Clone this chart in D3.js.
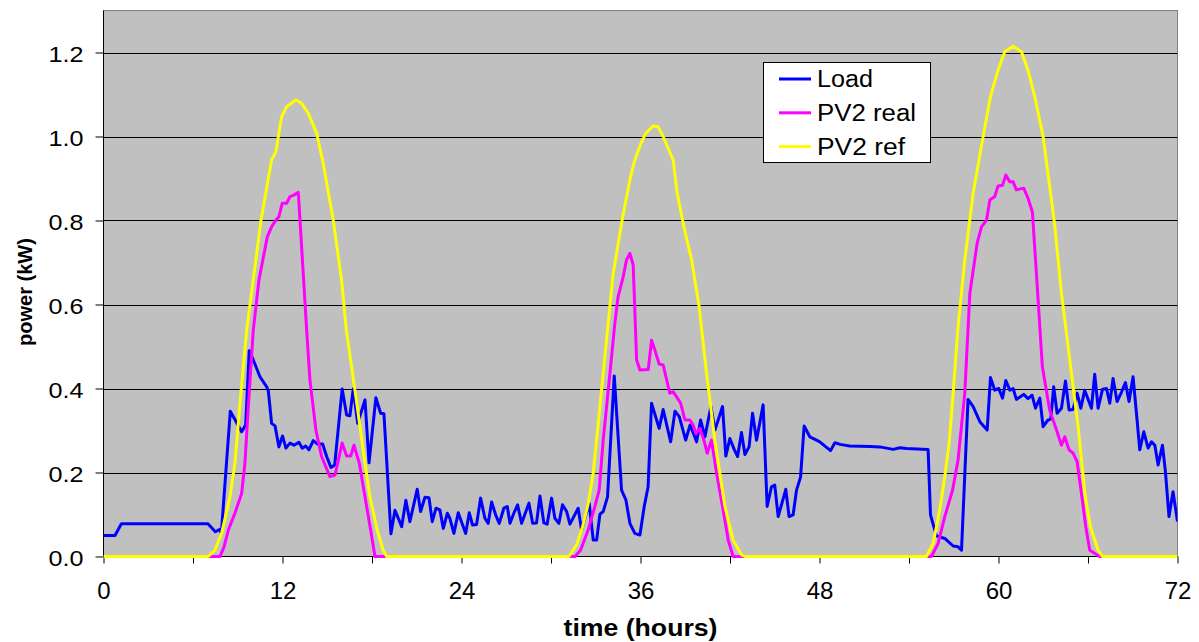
<!DOCTYPE html>
<html><head><meta charset="utf-8">
<script src="https://cdn.jsdelivr.net/npm/d3@7/dist/d3.min.js"></script>
<style>body{margin:0;background:#fff}svg{display:block}</style>
</head><body><svg id="c" width="1199" height="642"></svg>
<script>
// ---- data (hours, kW) ----
const loadHours=[0,0.77,1.2,7.0,7.5,7.8,7.9,8.5,8.8,9.26,9.53,9.77,10.04,10.49,10.94,11.05,11.27,11.5,11.76,12.0,12.23,12.5,12.77,13.1,13.33,13.55,13.77,14.06,14.33,14.69,14.96,15.25,15.5,16.0,16.3,16.52,16.74,17.04,17.53,17.8,18.26,18.58,18.8,19.27,19.54,19.99,20.27,20.54,21.03,21.26,21.55,21.82,22.04,22.29,22.55,22.78,23.05,23.22,23.49,23.78,24.28,24.52,24.74,25.01,25.28,25.57,25.79,26.02,26.29,26.53,26.84,27.07,27.25,27.51,27.76,28.03,28.52,28.77,29.03,29.26,29.52,29.74,30.04,30.26,30.53,30.77,31.05,31.27,31.82,32.05,32.56,32.83,33.06,33.28,33.5,33.79,34.24,34.73,35.02,35.29,35.62,35.96,36.25,36.51,36.74,37.25,37.52,38.02,38.31,38.6,39.03,39.32,39.53,39.76,40.03,40.32,40.72,40.99,41.5,41.72,41.99,42.28,42.51,42.77,43.0,43.28,43.51,43.78,44.22,44.49,44.78,45.0,45.23,45.74,45.96,46.23,46.46,46.73,46.97,47.35,47.8,48.02,48.74,49.03,49.38,50.03,51.37,52.04,52.94,53.39,53.83,55.28,55.44,55.84,56.4,56.96,57.29,57.52,57.96,58.3,58.75,59.24,59.46,59.75,60.02,60.27,60.49,60.76,60.98,61.2,61.69,61.98,62.25,62.48,62.77,62.99,63.32,63.5,63.7,63.93,64.22,64.49,64.73,65.0,65.27,65.52,65.78,66.23,66.45,66.68,66.97,67.24,67.46,67.68,67.95,68.24,68.51,68.75,69.02,69.29,69.47,69.74,70.03,70.26,70.48,70.7,70.99,71.19,71.43,71.7,72];
const loadKW=[0.05,0.05,0.078,0.078,0.059,0.065,0.055,0.346,0.327,0.297,0.313,0.49,0.468,0.428,0.404,0.394,0.317,0.311,0.261,0.287,0.258,0.27,0.265,0.272,0.258,0.263,0.254,0.276,0.268,0.268,0.238,0.212,0.218,0.399,0.337,0.335,0.399,0.317,0.373,0.223,0.378,0.341,0.34,0.054,0.11,0.071,0.134,0.083,0.16,0.107,0.141,0.14,0.083,0.115,0.111,0.067,0.103,0.091,0.055,0.104,0.055,0.104,0.075,0.076,0.139,0.091,0.079,0.13,0.099,0.079,0.115,0.119,0.079,0.103,0.123,0.079,0.127,0.079,0.08,0.144,0.08,0.077,0.139,0.091,0.079,0.123,0.107,0.077,0.115,0.063,0.127,0.039,0.039,0.101,0.107,0.142,0.43,0.158,0.135,0.079,0.055,0.051,0.119,0.166,0.365,0.305,0.35,0.273,0.346,0.333,0.277,0.313,0.295,0.273,0.325,0.285,0.357,0.301,0.357,0.239,0.281,0.255,0.238,0.295,0.243,0.261,0.341,0.277,0.361,0.119,0.166,0.17,0.095,0.16,0.095,0.099,0.158,0.189,0.311,0.285,0.277,0.273,0.252,0.271,0.267,0.263,0.262,0.261,0.255,0.259,0.257,0.255,0.099,0.049,0.043,0.025,0.023,0.015,0.374,0.357,0.321,0.301,0.426,0.396,0.4,0.377,0.419,0.396,0.4,0.374,0.386,0.376,0.384,0.353,0.377,0.309,0.325,0.327,0.404,0.341,0.353,0.418,0.349,0.35,0.389,0.353,0.396,0.353,0.434,0.353,0.398,0.4,0.365,0.424,0.369,0.391,0.414,0.369,0.428,0.325,0.254,0.297,0.258,0.273,0.265,0.218,0.265,0.202,0.095,0.154,0.083];

const realHours=[0,7.81,8.08,8.37,8.81,9.26,9.48,9.75,10.04,10.42,10.98,11.27,11.56,11.76,11.98,12.28,12.5,12.79,13.06,13.62,13.84,14.24,14.62,15.18,15.52,16.0,16.3,16.57,16.79,17.15,17.53,17.91,18.2,31.6,31.98,32.49,32.94,33.23,33.5,33.95,34.28,34.5,34.84,35.06,35.29,35.51,35.74,35.96,36.52,36.74,36.96,37.25,37.52,37.96,38.19,38.42,38.69,38.98,39.31,39.53,39.71,39.98,40.25,40.47,40.76,41.1,41.5,41.88,42.21,55.5,55.95,56.4,56.92,57.29,57.74,58.08,58.57,58.86,59.2,59.42,59.75,59.97,60.27,60.49,60.76,60.98,61.2,61.69,61.98,62.27,62.6,62.94,63.43,63.89,64.22,64.44,64.73,65.0,65.27,65.56,65.85,66.12,66.78,72];
const realKW=[0,0,0.023,0.063,0.103,0.15,0.222,0.38,0.539,0.658,0.761,0.785,0.801,0.809,0.841,0.841,0.857,0.861,0.867,0.539,0.42,0.301,0.238,0.19,0.194,0.27,0.239,0.239,0.265,0.222,0.142,0.063,0,0,0.015,0.063,0.119,0.158,0.277,0.436,0.555,0.619,0.666,0.706,0.722,0.694,0.468,0.444,0.445,0.515,0.492,0.458,0.456,0.389,0.392,0.38,0.365,0.325,0.325,0.313,0.293,0.305,0.277,0.246,0.277,0.198,0.119,0.039,0,0,0.031,0.095,0.158,0.23,0.389,0.627,0.746,0.785,0.801,0.849,0.857,0.882,0.884,0.908,0.892,0.892,0.873,0.877,0.853,0.821,0.642,0.452,0.349,0.301,0.265,0.285,0.254,0.246,0.226,0.15,0.071,0.015,0,0];

const refHours=[0,7.02,7.47,7.92,8.48,8.81,9.19,9.6,10.56,11.27,11.56,11.72,11.94,12.28,12.9,13.28,13.73,14.29,14.73,15.4,15.96,16.28,16.92,17.53,17.86,18.35,18.75,18.98,31.2,31.71,32.12,32.49,32.83,33.28,33.72,34.17,34.77,35.33,35.62,36.03,36.36,36.85,37.18,37.52,38.19,38.46,38.91,39.43,39.93,40.43,40.98,41.66,42.21,42.77,43.0,55.17,55.62,56.06,56.4,56.69,56.96,57.29,57.74,58.3,58.97,59.46,59.97,60.42,60.98,61.54,61.98,62.43,62.99,63.55,63.78,64.22,64.78,65.34,65.79,66.16,66.68,66.97,72];
const refKW=[0,0,0.015,0.055,0.142,0.222,0.38,0.539,0.801,0.944,0.964,1.0,1.047,1.071,1.087,1.079,1.055,1.008,0.936,0.801,0.658,0.539,0.38,0.222,0.142,0.063,0.015,0,0,0.027,0.071,0.125,0.198,0.357,0.515,0.674,0.801,0.904,0.944,0.984,1.008,1.025,1.023,1.0,0.944,0.865,0.785,0.706,0.595,0.436,0.277,0.119,0.039,0.004,0,0,0.031,0.111,0.19,0.27,0.389,0.547,0.706,0.865,1.0,1.095,1.158,1.202,1.215,1.202,1.158,1.095,1.0,0.849,0.785,0.627,0.468,0.309,0.15,0.071,0.015,0,0];

const seriesNames=["Load","PV2 real","PV2 ref"];
const seriesColors=["#0000FF","#FF00FF","#FFFF00"];
const xTickValues=[0,6,12,18,24,30,36,42,48,54,60,66,72];
const xLabelValues=[0,12,24,36,48,60,72];
const yTickValues=[0,0.2,0.4,0.6,0.8,1.0,1.2];
const xTitle="time (hours)";
const yTitle="power (kW)";

// ---- layout ----
const FONT="'Liberation Sans', Arial, sans-serif";
const L=103.5,R=1177.5,T=10.5,B=556.5;
const x=d3.scaleLinear().domain([0,72]).range([L,R]);
const y=d3.scaleLinear().domain([0,1.3]).range([B,T]);
const svg=d3.select("#c");
svg.append("rect").attr("width",1199).attr("height",642).attr("fill","#fff");
svg.append("rect").attr("x",L).attr("y",T).attr("width",R-L).attr("height",B-T)
  .attr("fill","#C0C0C0").attr("stroke","#808080").attr("stroke-width",1);

// gridlines
svg.append("g").selectAll("line").data(yTickValues.filter(d=>d>0)).join("line")
  .attr("x1",L).attr("x2",R).attr("y1",d=>Math.round(y(d))+0.5).attr("y2",d=>Math.round(y(d))+0.5)
  .attr("stroke","#000").attr("stroke-width",1);

// y axis
const yAxis=d3.axisLeft(y).tickValues(yTickValues).tickSize(8).tickPadding(12).tickFormat(d3.format(".1f"));
const gy=svg.append("g").attr("transform",`translate(${L},0)`).call(yAxis);
gy.select(".domain").attr("stroke","#000").attr("d",`M0,${T}V${B}`);
gy.selectAll(".tick line").attr("stroke","#000");
gy.selectAll(".tick text").attr("font-family",FONT).attr("font-size",22).attr("fill","#000")
  .attr("dy","0.4em").attr("textLength",35).attr("lengthAdjust","spacingAndGlyphs");

// x axis
const xAxis=d3.axisBottom(x).tickValues(xTickValues).tickSize(7).tickPadding(18)
  .tickFormat(d=>xLabelValues.includes(d)?String(d):"");
const gx=svg.append("g").attr("transform",`translate(0,${B})`).call(xAxis);
gx.select(".domain").attr("stroke","#000").attr("d",`M${L},0H${R}`);
gx.selectAll(".tick line").attr("stroke","#000");
gx.selectAll(".tick text").attr("font-family",FONT).attr("font-size",24).attr("fill","#000");

// titles
svg.append("text").attr("x",(L+R)/2).attr("y",636).attr("text-anchor","middle")
  .attr("font-family",FONT).attr("font-weight","bold").attr("font-size",23)
  .attr("textLength",154).attr("lengthAdjust","spacingAndGlyphs").text(xTitle);
svg.append("text").attr("transform","translate(32,292) rotate(-90)").attr("text-anchor","middle")
  .attr("font-family",FONT).attr("font-weight","bold").attr("font-size",20)
  .text(yTitle);

// series
svg.append("clipPath").attr("id","clip").append("rect").attr("x",L).attr("y",T-2).attr("width",R-L).attr("height",B-T+4);
const series=[
  {h:loadHours,v:loadKW},
  {h:realHours,v:realKW},
  {h:refHours,v:refKW}
];
const line=d3.line().x(d=>x(d[0])).y(d=>y(d[1]));
const gl=svg.append("g").attr("clip-path","url(#clip)");
series.forEach((s,i)=>{
  const pts=s.h.map((h,j)=>[h,s.v[j]]);
  gl.append("path").datum(pts).attr("d",line).attr("fill","none")
    .attr("stroke",seriesColors[i]).attr("stroke-width",3).attr("stroke-linejoin","round");
});

// legend
const lg=svg.append("g");
lg.append("rect").attr("x",763.5).attr("y",62.5).attr("width",167).attr("height",100)
  .attr("fill","#fff").attr("stroke","#000").attr("stroke-width",1);
const legendLen=[56,99,88];
seriesNames.forEach((n,i)=>{
  const yy=79+i*33.8;
  lg.append("line").attr("x1",779).attr("x2",811).attr("y1",yy).attr("y2",yy)
    .attr("stroke",seriesColors[i]).attr("stroke-width",3);
  lg.append("text").attr("x",817).attr("y",yy).attr("dy","0.36em")
    .attr("font-family",FONT).attr("font-size",23).attr("textLength",legendLen[i])
    .attr("lengthAdjust","spacingAndGlyphs").text(n);
});
</script></body></html>
